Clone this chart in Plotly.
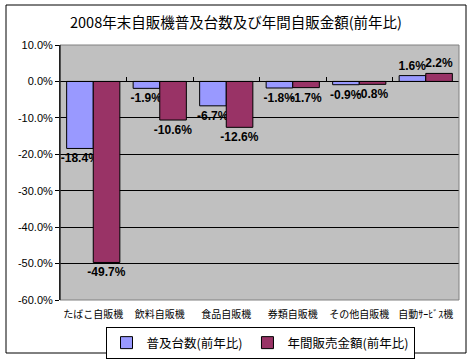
import plotly.graph_objects as go

categories = ["たばこ自販機", "飲料自販機", "食品自販機", "券類自販機", "その他自販機", "自動ｻｰﾋﾞｽ機"]
units = [-18.4, -1.9, -6.7, -1.8, -0.9, 1.6]
sales = [-49.7, -10.6, -12.6, -1.7, -0.8, 2.2]
series_names = ["普及台数(前年比)", "年間販売金額(前年比)"]
tick_vals = [-60, -50, -40, -30, -20, -10, 0, 10]
tick_text = ["-60.0%", "-50.0%", "-40.0%", "-30.0%", "-20.0%", "-10.0%", "0.0%", "10.0%"]
title = "2008年末自販機普及台数及び年間自販金額(前年比)"

JP = "Noto Sans CJK JP"
W, H = 472, 361
L, R, T, B = 60, 13, 45, 61
pw, ph = W - L - R, H - T - B

def lbl(v):
    return f"{v:.1f}%"

fig = go.Figure()
for vals, name, col in [(units, series_names[0], "#9999FF"), (sales, series_names[1], "#993366")]:
    fig.add_trace(go.Bar(
        x=categories, y=vals, name=name,
        marker=dict(color=col, line=dict(color="black", width=1)),
        text=[lbl(v) for v in vals], textposition="outside",
        textfont=dict(family="Liberation Sans", size=12, color="black", weight="bold"),
        constraintext="none", cliponaxis=False,
    ))

# category tick marks on the zero line
fig.add_trace(go.Scatter(x=[0], y=[0], xaxis="x2", yaxis="y", mode="markers",
                         marker=dict(opacity=0), showlegend=False, hoverinfo="skip"))

ymin, ymax = -60, 10
fig.update_layout(
    width=W, height=H,
    margin=dict(l=L, r=R, t=T, b=B, autoexpand=False),
    paper_bgcolor="white", plot_bgcolor="#C0C0C0",
    barmode="group", bargap=0.2, bargroupgap=0,
    title=dict(text=title, x=236 / W, xanchor="center", y=1 - 23 / H, yanchor="middle",
               yref="container", font=dict(family=JP, size=14.5, color="black")),
    xaxis=dict(showgrid=False, showline=False, ticks="", zeroline=False, automargin=False,
               tickangle=0, tickfont=dict(family=JP, size=10, color="black"),
               ticklabelstandoff=7, range=[-0.5, len(categories) - 0.5]),
    xaxis2=dict(overlaying="x", anchor="free", position=(0 - ymin) / (ymax - ymin),
                range=[-0.5, len(categories) - 0.5], showgrid=False, zeroline=False,
                showline=True, linecolor="black", linewidth=1, automargin=False,
                tickmode="array", tickvals=[i + 0.5 for i in range(-1, len(categories))],
                ticks="inside", ticklen=4, tickcolor="black", showticklabels=False, side="bottom"),
    yaxis=dict(range=[ymin, ymax], tickvals=tick_vals, ticktext=tick_text, automargin=False,
               showgrid=True, gridcolor="black", gridwidth=1, zeroline=False,
               showline=True, linecolor="black", linewidth=1, ticks="outside", ticklen=4,
               tickcolor="black", tickfont=dict(family="Liberation Sans", size=11, color="black")),
    legend=dict(orientation="h", x=(260 - L) / pw, xanchor="center", y=(ph - (327 - T)) / ph,
                yanchor="top", bordercolor="black", borderwidth=1, bgcolor="white",
                itemwidth=30, font=dict(family=JP, size=12.5, color="black"), traceorder="normal"),
    showlegend=True,
)

# plot area border (top, right, bottom in gray)
fig.add_shape(type="rect", xref="paper", yref="paper", x0=0, x1=1, y0=0, y1=1,
              line=dict(color="#808080", width=1), layer="above")
fig.add_shape(type="line", xref="paper", yref="paper", x0=0, x1=0, y0=0, y1=1,
              line=dict(color="black", width=1), layer="above")
# chart outer border
fig.add_shape(type="rect", xref="paper", yref="paper",
              x0=(6 - L) / pw, x1=(466 - L) / pw, y0=(ph - (353 - T)) / ph, y1=(ph - (5 - T)) / ph,
              line=dict(color="black", width=1))

fig.write_html("out.html", config={"displayModeBar": False},
               post_script="document.body.style.margin='0';document.body.style.overflow='hidden';")
